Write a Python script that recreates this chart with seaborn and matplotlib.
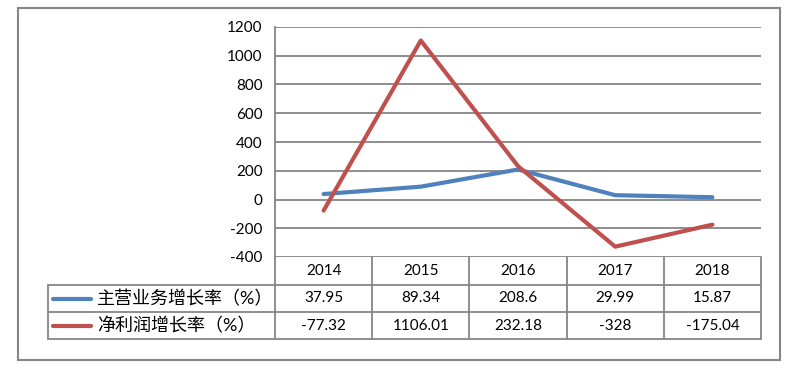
import matplotlib
matplotlib.use('Agg')
import numpy as np
import pandas as pd
import seaborn as sns
import matplotlib.pyplot as plt
from matplotlib.lines import Line2D
from matplotlib.patches import Rectangle
from matplotlib.transforms import blended_transform_factory

years = ['2014', '2015', '2016', '2017', '2018']
series_names = ['主营业务增长率（%）', '净利润增长率（%）']
revenue_growth = [37.95, 89.34, 208.6, 29.99, 15.87]
profit_growth = [-77.32, 1106.01, 232.18, -328, -175.04]
y_ticks = [-400, -200, 0, 200, 400, 600, 800, 1000, 1200]
colors = ['#4F81BD', '#C0504D']
grid_color = '#868686'

sns.set_theme(style='white')
plt.rcParams['font.family'] = ['Lato', 'Noto Sans CJK SC', 'DejaVu Sans']

W, H = 793, 373
fig = plt.figure(figsize=(W / 100, H / 100), dpi=100)


def fx(px):
    return px / W


def fy(py):
    return 1 - py / H


ax = fig.add_axes([fx(275), fy(257), fx(761) - fx(275), fy(27) - fy(257)])
df = pd.DataFrame({
    'year': years * 2,
    'value': revenue_growth + profit_growth,
    'series': [series_names[0]] * len(years) + [series_names[1]] * len(years),
})
sns.lineplot(data=df, x='year', y='value', hue='series', hue_order=series_names,
             palette=colors, linewidth=3, legend=False, ax=ax, sort=False)

ax.set_xlim(-0.5, len(years) - 0.5)
ax.set_ylim(min(y_ticks), max(y_ticks))
ax.set_yticks(y_ticks)
ax.set_yticklabels([str(t) for t in y_ticks], fontsize=11, color='black')
ax.set_xticks([])
ax.set_xlabel('')
ax.set_ylabel('')
ax.tick_params(axis='y', length=0, pad=9)
ax.yaxis.grid(True, color=grid_color, linewidth=1.3)
ax.set_axisbelow(True)
for s in ['top', 'right', 'bottom']:
    ax.spines[s].set_visible(False)
ax.spines['left'].set_color(grid_color)
ax.spines['left'].set_linewidth(1.3)
ax.patch.set_alpha(0)

# Data table
tr = blended_transform_factory(ax.transData, fig.transFigure)
lw = 1.3
row_top, row1, row2, row3 = 257, 285, 312, 339
for k in range(len(years) + 1):
    x = -0.5 + k
    fig.add_artist(Line2D([x, x], [fy(row_top), fy(row3)], transform=tr,
                          color=grid_color, lw=lw, clip_on=False))
for ry in [row1, row2, row3]:
    fig.add_artist(Line2D([fx(48), fx(761)], [fy(ry), fy(ry)],
                          color=grid_color, lw=lw))
fig.add_artist(Line2D([fx(48), fx(48)], [fy(row1), fy(row3)], color=grid_color, lw=lw))


def fmt(v):
    return f'{v:g}'


for i, yr in enumerate(years):
    fig.text(i, fy((row_top + row1) / 2), yr, transform=tr, ha='center', va='center',
             fontsize=11, color='black')
    fig.text(i, fy((row1 + row2) / 2), fmt(revenue_growth[i]), transform=tr,
             ha='center', va='center', fontsize=11, color='black')
    fig.text(i, fy((row2 + row3) / 2), fmt(profit_growth[i]), transform=tr,
             ha='center', va='center', fontsize=11, color='black')

for j, (name, c) in enumerate(zip(series_names, colors)):
    yc = fy((row1 + row2) / 2) if j == 0 else fy((row2 + row3) / 2)
    fig.add_artist(Line2D([fx(53), fx(91)], [yc, yc], color=c, lw=3, solid_capstyle='round'))
    fig.text(fx(97), yc, name, ha='left', va='center', fontsize=13, color='black')

fig.add_artist(Rectangle((fx(18), fy(360)), fx(780) - fx(18), fy(8) - fy(360),
                         fill=False, edgecolor=grid_color, lw=1.5, transform=fig.transFigure))

fig.savefig('out.png', dpi=100)
